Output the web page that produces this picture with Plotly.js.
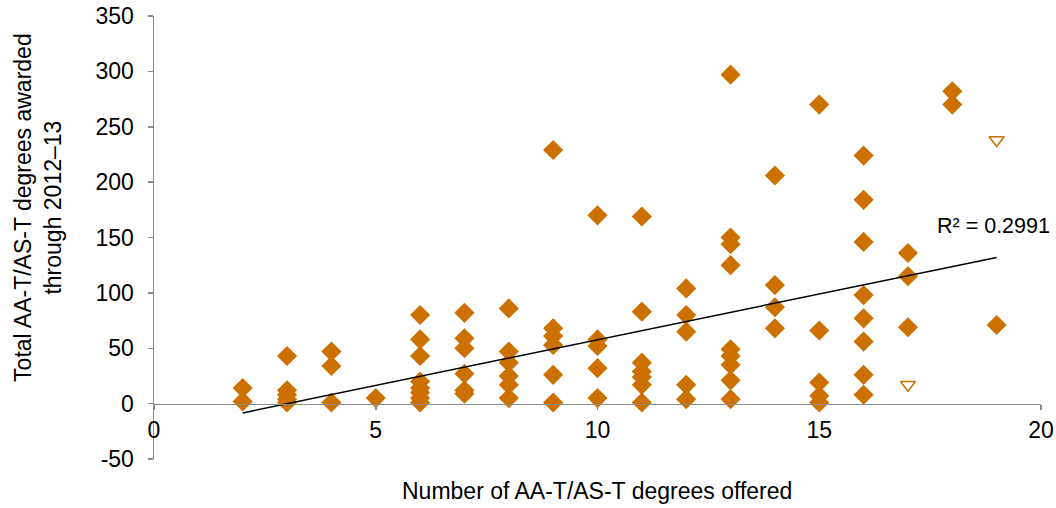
<!DOCTYPE html>
<html>
<head>
<meta charset="utf-8">
<script src="https://cdn.plot.ly/plotly-3.0.1.min.js"></script>
<style>html,body{margin:0;padding:0;background:#fff;}#chart{width:1056px;height:508px;}</style>
</head>
<body>
<div id="chart"></div>
<script>
// Number of AA-T/AS-T degrees offered (x) and degrees awarded (y), one entry per college
const offered = [
  2, 2,
  3, 3, 3, 3, 3,
  4, 4, 4,
  5,
  6, 6, 6, 6, 6, 6, 6, 6,
  7, 7, 7, 7, 7, 7,
  8, 8, 8, 8, 8, 8,
  9, 9, 9, 9, 9, 9,
  10, 10, 10, 10, 10,
  11, 11, 11, 11, 11, 11, 11,
  12, 12, 12, 12, 12,
  13, 13, 13, 13, 13, 13, 13, 13, 13,
  14, 14, 14, 14,
  15, 15, 15, 15, 15,
  16, 16, 16, 16, 16, 16, 16, 16,
  17, 17, 17,
  18, 18,
  19
];
const awarded = [
  14, 2,
  43, 12, 8, 4, 1,
  47, 34, 1,
  5,
  80, 58, 43, 20, 14, 10, 5, 1,
  82, 59, 50, 27, 12, 9,
  86, 47, 37, 25, 17, 5,
  229, 68, 61, 53, 26, 1,
  170, 58, 52, 32, 5,
  169, 83, 37, 29, 24, 17, 1,
  104, 80, 65, 17, 4,
  297, 150, 144, 125, 49, 43, 35, 21, 4,
  206, 107, 87, 68,
  270, 66, 19, 7, 1,
  224, 184, 146, 98, 77, 56, 26, 8,
  136, 115, 69,
  282, 270,
  71
];
// highlighted colleges (open markers)
const highlightOffered = [17, 19];
const highlightAwarded = [17, 238];

// linear trendline as drawn in the original
const trendOffered = [2, 19];
const trendAwarded = [-8.4, 132];

const xTicks = [0, 5, 10, 15, 20];
const yTicks = [-50, 0, 50, 100, 150, 200, 250, 300, 350];
const rSquaredLabel = 'R² = 0.2991';

const orange = '#CC7000';
const axisGray = '#8C8C8C';
const font = {family: 'Liberation Sans, Arial, sans-serif', size: 23, color: '#000'};
const rFont = {family: 'Liberation Sans, Arial, sans-serif', size: 21.5, color: '#000'};

const traces = [
  {x: offered, y: awarded, type: 'scatter', mode: 'markers',
   marker: {symbol: 'diamond', size: 15.5, color: orange, line: {width: 0}}, hoverinfo: 'skip'},
  {x: highlightOffered, y: highlightAwarded, type: 'scatter', mode: 'markers',
   marker: {symbol: 'triangle-down-open', size: 13, color: orange, line: {width: 1.5, color: orange}}, hoverinfo: 'skip'},
  {x: trendOffered, y: trendAwarded, type: 'scatter', mode: 'lines',
   line: {color: '#000', width: 1.5}, hoverinfo: 'skip'}
];

const layout = {
  width: 1056, height: 508,
  margin: {l: 154, r: 15, t: 16, b: 49, pad: 0},
  paper_bgcolor: '#fff', plot_bgcolor: '#fff',
  showlegend: false,
  font: font,
  xaxis: {
    range: [0, 20], tickvals: xTicks, ticktext: xTicks.map(String),
    showgrid: false, zeroline: false, showline: true, linecolor: axisGray, linewidth: 1.5,
    ticks: 'outside', ticklen: 5, tickcolor: axisGray, tickwidth: 1.5,
    anchor: 'free', position: 50 / 400, tickfont: font, ticklabelstandoff: 0, fixedrange: true
  },
  yaxis: {
    range: [-50, 350], tickvals: yTicks, ticktext: yTicks.map(String),
    showgrid: false, zeroline: false, showline: true, linecolor: axisGray, linewidth: 1.5,
    ticks: 'outside', ticklen: 5, tickcolor: axisGray, tickwidth: 1.5,
    tickfont: font, ticklabelstandoff: 9, fixedrange: true
  },
  annotations: [
    {text: rSquaredLabel, x: 18.92, y: 160, xref: 'x', yref: 'y', showarrow: false,
     xanchor: 'center', yanchor: 'middle', font: rFont},
    {text: 'Number of AA-T/AS-T degrees offered', x: 0.499, y: -0.072, xref: 'paper', yref: 'paper',
     showarrow: false, xanchor: 'center', yanchor: 'middle', font: font},
    {text: 'Total AA-T/AS-T degrees awarded<br>through 2012–13', x: -0.1308, y: 0.569,
     xref: 'paper', yref: 'paper', showarrow: false, textangle: -90,
     xanchor: 'center', yanchor: 'middle', font: font}
  ]
};

Plotly.newPlot('chart', traces, layout, {staticPlot: true, displayModeBar: false});
</script>
</body>
</html>
